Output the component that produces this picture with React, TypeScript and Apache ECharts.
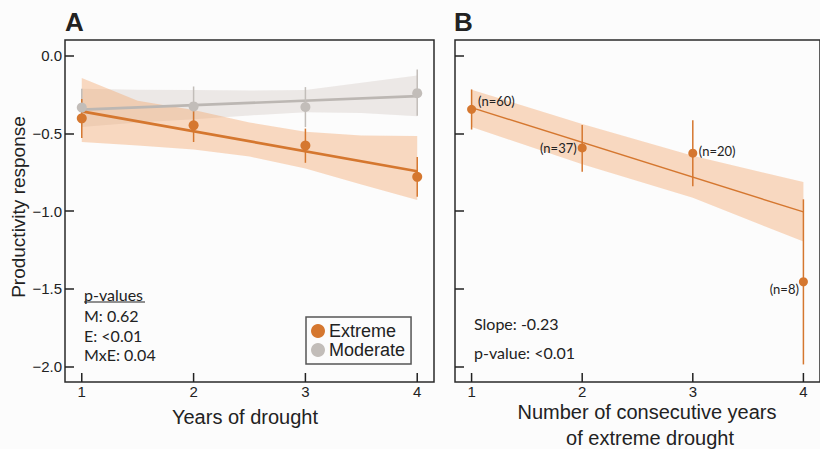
import React, { useEffect, useRef } from "react";
import * as echarts from "echarts";

// ---------- Data (panel A) ----------
const years = [1, 2, 3, 4];
const extremeA = [-0.404, -0.449, -0.579, -0.78];
const extremeALo = [-0.53, -0.556, -0.69, -0.908];
const extremeAHi = [-0.28, -0.34, -0.47, -0.652];
const moderateA = [-0.335, -0.327, -0.331, -0.242];
const moderateALo = [-0.45, -0.455, -0.46, -0.387];
const moderateAHi = [-0.214, -0.199, -0.203, -0.09];
const fitX = [1, 4];
const extremeFitA = [-0.359, -0.744];
const moderateFitA = [-0.348, -0.261];
const bandAX = [1, 1.5, 2, 2.5, 3, 3.5, 4];
const extremeBandAHi = [-0.145, -0.29, -0.35, -0.43, -0.49, -0.515, -0.517];
const extremeBandALo = [-0.556, -0.578, -0.605, -0.65, -0.727, -0.83, -0.929];
const moderateBandAHi = [-0.214, -0.22, -0.222, -0.225, -0.222, -0.175, -0.128];
const moderateBandALo = [-0.46, -0.43, -0.41, -0.385, -0.365, -0.37, -0.391];

// ---------- Data (panel B) ----------
const consecYears = [1, 2, 3, 4];
const extremeB = [-0.346, -0.594, -0.628, -1.455];
const extremeBLo = [-0.476, -0.748, -0.84, -1.987];
const extremeBHi = [-0.218, -0.447, -0.417, -0.925];
const nCounts = [60, 37, 20, 8];
const fitB = [-0.335, -1.006];
const bandBX = [1, 2, 3, 4];
const bandBHi = [-0.22, -0.44, -0.645, -0.814];
const bandBLo = [-0.459, -0.7, -0.915, -1.197];

// ---------- Axis ranges / ticks ----------
const X_MIN = 0.85;
const X_MAX = 4.15;
const Y_MIN = -2.1;
const Y_MAX = 0.1;
const xTicks = [1, 2, 3, 4];
const yTicks = [0, -0.5, -1, -1.5, -2];

const ORANGE = "#d5772f";
const GRAY = "#c2bdb9";
const AXIS = "#222222";
const SANS = '"Liberation Sans", Arial, sans-serif';
const HUMAN = 'Lato, "Open Sans", sans-serif';

function bandSeries(name: string, idx: number, xs: number[], lo: number[], hi: number[], fill: string) {
  return {
    type: "custom",
    name,
    xAxisIndex: idx,
    yAxisIndex: idx,
    silent: true,
    encode: { x: 0, y: [1, 2] },
    data: xs.map((x, i) => [x, lo[i], hi[i]]),
    renderItem: (params: any, api: any) => {
      if (params.dataIndex !== 0) return null;
      const n = params.dataInsideLength;
      const top: number[][] = [];
      const bot: number[][] = [];
      for (let i = 0; i < n; i++) {
        const x = api.value(0, i);
        top.push(api.coord([x, api.value(2, i)]));
        bot.push(api.coord([x, api.value(1, i)]));
      }
      return {
        type: "polygon",
        shape: { points: top.concat(bot.reverse()) },
        style: { fill, stroke: "none" },
      };
    },
  };
}

// vertical segments between lo and hi (error bars and inward x-axis tick marks)
function segSeries(name: string, idx: number, xs: number[], lo: number[], hi: number[], color: string, w: number) {
  return {
    type: "custom",
    name,
    xAxisIndex: idx,
    yAxisIndex: idx,
    silent: true,
    clip: false,
    z: 30,
    encode: { x: 0, y: [1, 2] },
    data: xs.map((x, i) => [x, lo[i], hi[i]]),
    renderItem: (params: any, api: any) => {
      const x = api.value(0);
      const p1 = api.coord([x, api.value(1)]);
      const p2 = api.coord([x, api.value(2)]);
      return {
        type: "line",
        shape: { x1: p1[0], y1: p1[1], x2: p2[0], y2: p2[1] },
        style: { stroke: color, lineWidth: w },
      };
    },
  };
}

// inward x tick marks: from the bottom edge up ~9px (0.058 of the y scale)
const TICK_LEN = 0.058;
const tickLo = xTicks.map(() => Y_MIN);
const tickHi = xTicks.map(() => Y_MIN + TICK_LEN);

function lineSeries(name: string, idx: number, xs: number[], ys: number[], color: string, w: number) {
  return {
    type: "line",
    name,
    xAxisIndex: idx,
    yAxisIndex: idx,
    silent: true,
    symbol: "none",
    data: xs.map((x, i) => [x, ys[i]]),
    lineStyle: { color, width: w },
  };
}

const fmtY = (v: number) => (v === 0 ? "0.0" : v.toFixed(1).replace("-", "\u2212"));

function axisX(idx: number) {
  return {
    type: "value",
    gridIndex: idx,
    position: "bottom",
    min: X_MIN,
    max: X_MAX,
    axisLine: { show: false, onZero: false },
    splitLine: { show: false },
    axisTick: { show: false },
    axisLabel: { show: true, customValues: xTicks, margin: 2, fontSize: 15, color: AXIS, fontFamily: SANS },
  };
}

function axisY(idx: number, labels: boolean) {
  return {
    type: "value",
    gridIndex: idx,
    position: "left",
    min: Y_MIN,
    max: Y_MAX,
    axisLine: { show: false, onZero: false },
    splitLine: { show: false },
    axisTick: { show: true, inside: true, length: 9, customValues: yTicks, lineStyle: { color: AXIS, width: 1.5 } },
    axisLabel: {
      show: labels,
      customValues: yTicks,
      margin: 3,
      fontSize: 15,
      color: AXIS,
      fontFamily: SANS,
      formatter: fmtY,
    },
  };
}

function txt(text: string, x: number, y: number, font: string, align = "left", extra: any = {}) {
  return {
    type: "text",
    x,
    y,
    silent: true,
    ...extra,
    style: { text, font, fill: AXIS, align, verticalAlign: "middle" },
  };
}

export default function App() {
  const ref = useRef<HTMLDivElement>(null);
  useEffect(() => {
    if (!ref.current) return;
    const chart = echarts.init(ref.current, null, { renderer: "svg" });
    const nLabelPos = [
      { position: "right", distance: 2, offset: [0, -8] },
      { position: "left", distance: 1, offset: [0, 0.6] },
      { position: "right", distance: 1.5, offset: [0, -2.3] },
      { position: "left", distance: 0, offset: [0, 7] },
    ];
    const option: any = {
      animation: false,
      backgroundColor: "#fcfcfc",
      grid: [
        { left: 65, top: 40, width: 369, height: 342, show: true, borderColor: "#2a2a2a", borderWidth: 1.5, backgroundColor: "transparent" },
        { left: 455, top: 40, width: 369, height: 342, show: true, borderColor: "#2a2a2a", borderWidth: 1.5, backgroundColor: "transparent" },
      ],
      xAxis: [axisX(0), axisX(1)],
      yAxis: [axisY(0, true), axisY(1, false)],
      legend: {
        data: ["Extreme", "Moderate"],
        orient: "vertical",
        left: 306,
        top: 317,
        padding: [5, 6, 5, 5],
        itemGap: 1,
        itemWidth: 14,
        itemHeight: 14,
        icon: "circle",
        borderColor: "#555",
        borderWidth: 1.5,
        selectedMode: false,
        textStyle: { fontSize: 18, color: AXIS, fontFamily: SANS, padding: [0, 0, 0, -1] },
      },
      series: [
        bandSeries("modBandA", 0, bandAX, moderateBandALo, moderateBandAHi, "rgba(205,195,188,0.35)"),
        bandSeries("extBandA", 0, bandAX, extremeBandALo, extremeBandAHi, "rgba(244,168,110,0.42)"),
        lineSeries("modFitA", 0, fitX, moderateFitA, "#bcb7b3", 2.6),
        lineSeries("extFitA", 0, fitX, extremeFitA, ORANGE, 2.6),
        segSeries("modErrA", 0, years, moderateALo, moderateAHi, GRAY, 1.5),
        segSeries("extErrA", 0, years, extremeALo, extremeAHi, ORANGE, 1.5),
        {
          type: "scatter",
          name: "Moderate",
          xAxisIndex: 0,
          yAxisIndex: 0,
          symbolSize: 10,
          z: 40,
          itemStyle: { color: GRAY, opacity: 1 },
          data: years.map((x, i) => [x, moderateA[i]]),
        },
        {
          type: "scatter",
          name: "Extreme",
          xAxisIndex: 0,
          yAxisIndex: 0,
          symbolSize: 10,
          z: 40,
          itemStyle: { color: ORANGE, opacity: 1 },
          data: years.map((x, i) => [x, extremeA[i]]),
        },
        segSeries("xTicksA", 0, xTicks, tickLo, tickHi, AXIS, 1.5),
        bandSeries("bandB", 1, bandBX, bandBLo, bandBHi, "rgba(244,168,110,0.42)"),
        lineSeries("fitB", 1, fitX, fitB, ORANGE, 1.4),
        segSeries("errB", 1, consecYears, extremeBLo, extremeBHi, ORANGE, 1.5),
        {
          type: "scatter",
          name: "extB",
          xAxisIndex: 1,
          yAxisIndex: 1,
          symbolSize: 9,
          z: 40,
          itemStyle: { color: ORANGE, opacity: 1 },
          data: consecYears.map((x, i) => ({
            value: [x, extremeB[i]],
            label: {
              show: true,
              formatter: `(n=${nCounts[i]})`,
              fontSize: 13,
              fontFamily: HUMAN,
              color: AXIS,
              ...nLabelPos[i],
            },
          })),
        },
        segSeries("xTicksB", 1, xTicks, tickLo, tickHi, AXIS, 1.5),
      ],
      graphic: [
        txt("A", 65, 22, `bold 26px "Liberation Sans Narrow", "Liberation Sans", sans-serif`),
        txt("B", 454, 22, `bold 26px "Liberation Sans Narrow", "Liberation Sans", sans-serif`),
        txt("Productivity response", 18, 207, `19px ${SANS}`, "center", { rotation: Math.PI / 2 }),
        txt("Years of drought", 245, 417, `20px ${SANS}`, "center"),
        txt("Number of consecutive years", 647, 412, `20px ${SANS}`, "center"),
        txt("of extreme drought", 650, 438, `20px ${SANS}`, "center"),
        txt("p-values", 84, 294.5, `16px ${HUMAN}`),
        { type: "line", silent: true, shape: { x1: 84, y1: 302, x2: 145, y2: 302 }, style: { stroke: AXIS, lineWidth: 1 } },
        txt("M: 0.62", 84, 315.3, `16px ${HUMAN}`),
        txt("E: <0.01", 84, 335, `16px ${HUMAN}`),
        txt("MxE: 0.04", 84, 354.3, `16px ${HUMAN}`),
        txt("Slope: -0.23", 474, 323, `16px ${HUMAN}`),
        txt("p-value: <0.01", 474, 352.5, `16px ${HUMAN}`),
      ],
    };
    chart.setOption(option);
    return () => chart.dispose();
  }, []);
  return <div ref={ref} style={{ position: "fixed", left: 0, top: 0, width: 820, height: 449 }} />;
}
